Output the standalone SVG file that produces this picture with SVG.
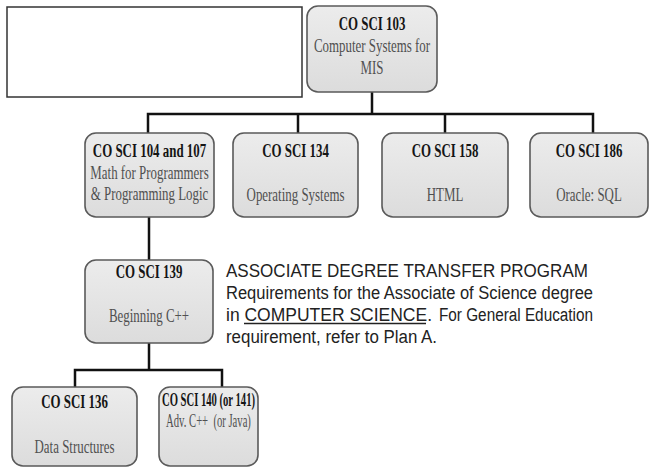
<svg xmlns="http://www.w3.org/2000/svg" width="656" height="469" viewBox="0 0 656 469">
<defs>
<linearGradient id="bg" x1="0" y1="0" x2="0" y2="1">
<stop offset="0" stop-color="#ececec"/>
<stop offset="1" stop-color="#dcdcdc"/>
</linearGradient>
</defs>
<style>
.box{fill:url(#bg);stroke:#5a5a5a;stroke-width:1.6}
.t{font-family:"Liberation Serif","Times New Roman",serif;font-size:19px;font-weight:bold;fill:#151515;text-anchor:middle}
.s{font-family:"Liberation Serif","Times New Roman",serif;font-size:19px;fill:#505050;text-anchor:middle}
.p{font-family:"Liberation Sans",Arial,sans-serif;font-size:18px;fill:#222}
.c{fill:none;stroke:#111;stroke-width:2.5}
</style>
<rect width="656" height="469" fill="#fff"/>
<rect x="7" y="7" width="295" height="90" fill="#fff" stroke="#333" stroke-width="1.5"/>
<g id="connectors">
<path class="c" d="M372 92V114M148 133V114H593V133M298 114V133M445 114V133"/>
<path class="c" d="M149 217V260M149 343V370M75 387V370H222V387"/>
</g>
<g id="n103">
<rect class="box" x="307" y="6" width="130" height="86" rx="11"/>
<g transform="translate(372 0) scale(0.68 1)">
<text class="t" x="0" y="30">CO SCI 103</text>
<text class="s" x="0" y="52">Computer Systems for</text>
<text class="s" x="0" y="74">MIS</text>
</g>
</g>
<g id="n104">
<rect class="box" x="85" y="133" width="129" height="84" rx="11"/>
<g transform="translate(149.5 0) scale(0.68 1)">
<text class="t" x="0" y="157">CO SCI 104 and 107</text>
<text class="s" x="0" y="179">Math for Programmers</text>
<text class="s" x="0" y="200">&amp; Programming Logic</text>
</g>
</g>
<g id="n134">
<rect class="box" x="233" y="133" width="125" height="84" rx="11"/>
<g transform="translate(295.5 0) scale(0.68 1)">
<text class="t" x="0" y="157">CO SCI 134</text>
<text class="s" x="0" y="201">Operating Systems</text>
</g>
</g>
<g id="n158">
<rect class="box" x="382" y="133" width="126" height="84" rx="11"/>
<g transform="translate(445 0) scale(0.68 1)">
<text class="t" x="0" y="157">CO SCI 158</text>
<text class="s" x="0" y="201">HTML</text>
</g>
</g>
<g id="n186">
<rect class="box" x="530" y="133" width="118" height="84" rx="11"/>
<g transform="translate(589 0) scale(0.68 1)">
<text class="t" x="0" y="157">CO SCI 186</text>
<text class="s" x="0" y="201">Oracle: SQL</text>
</g>
</g>
<g id="n139">
<rect class="box" x="85" y="260" width="128" height="83" rx="11"/>
<g transform="translate(149 0) scale(0.68 1)">
<text class="t" x="0" y="278">CO SCI 139</text>
<text class="s" x="0" y="322">Beginning C++</text>
</g>
</g>
<g id="n136">
<rect class="box" x="12" y="387" width="125" height="79" rx="11"/>
<g transform="translate(74.5 0) scale(0.68 1)">
<text class="t" x="0" y="408">CO SCI 136</text>
<text class="s" x="0" y="453">Data Structures</text>
</g>
</g>
<g id="n140">
<rect class="box" x="159" y="387" width="99" height="79" rx="11"/>
<g transform="translate(208.5 0) scale(0.56 1)">
<text class="t" x="0" y="406">CO SCI 140 (or 141)</text>
<text class="s" x="0" y="427" xml:space="preserve">Adv. C++  (or Java)</text>
</g>
</g>
<g id="note">
<text class="p" x="226" y="277" textLength="362" lengthAdjust="spacingAndGlyphs">ASSOCIATE DEGREE TRANSFER PROGRAM</text>
<text class="p" x="226" y="299" textLength="367" lengthAdjust="spacingAndGlyphs">Requirements for the Associate of Science degree</text>
<text class="p" x="226" y="321" textLength="206" lengthAdjust="spacingAndGlyphs">in COMPUTER SCIENCE.</text>
<line x1="244" y1="323.5" x2="426" y2="323.5" stroke="#222" stroke-width="1.3"/>
<text class="p" x="439" y="321" textLength="154" lengthAdjust="spacingAndGlyphs">For General Education</text>
<text class="p" x="226" y="343" textLength="211" lengthAdjust="spacingAndGlyphs">requirement, refer to Plan A.</text>
</g>
</svg>
